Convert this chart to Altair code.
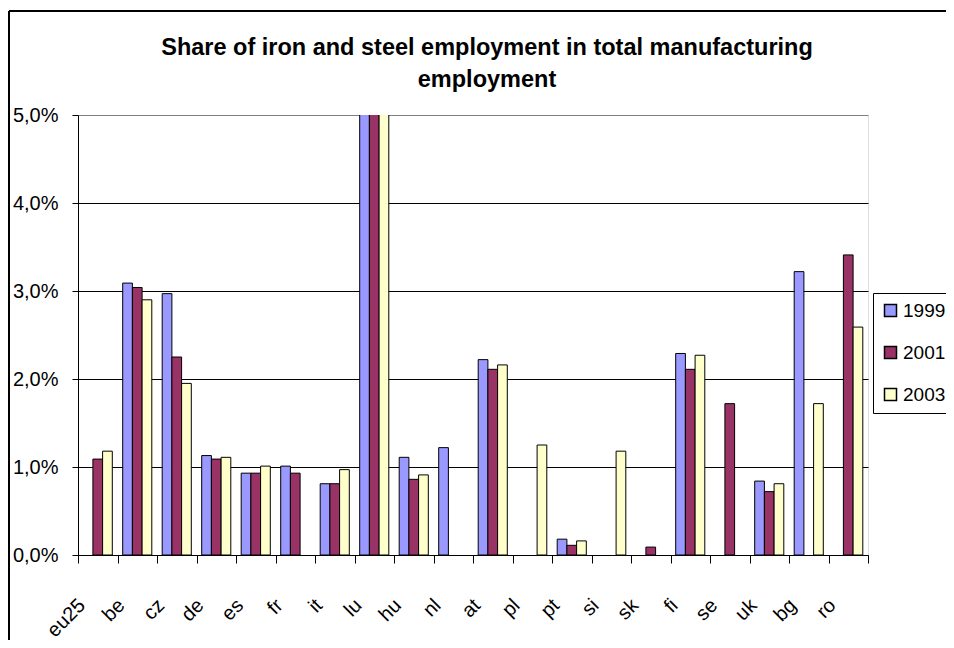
import altair as alt
import pandas as pd

countries = ["eu25", "be", "cz", "de", "es", "fr", "it", "lu", "hu", "nl",
             "at", "pl", "pt", "si", "sk", "fi", "se", "uk", "bg", "ro"]
years = ["1999", "2001", "2003"]
colors = ["#9999FF", "#993366", "#FFFFCC"]

# share in % (lu exceeds the 5% axis and is cut off)
v1999 = [None, 3.09, 2.97, 1.13, 0.93, 1.01, 0.81, 5.6, 1.11, 1.22,
         2.22, None, 0.18, None, None, 2.29, None, 0.84, 3.22, None]
v2001 = [1.09, 3.04, 2.25, 1.09, 0.93, 0.93, 0.81, 5.6, 0.86, None,
         2.11, None, 0.11, None, 0.09, 2.11, 1.72, 0.72, None, 3.41]
v2003 = [1.18, 2.90, 1.95, 1.11, 1.01, None, 0.97, 5.6, 0.91, None,
         2.16, 1.25, 0.16, 1.18, None, 2.27, None, 0.81, 1.72, 2.59]

rows = []
for yr, vals in zip(years, [v1999, v2001, v2003]):
    for c, v in zip(countries, vals):
        if v is not None:
            rows.append({"country": c, "year": yr, "value": v})
df = pd.DataFrame(rows)

FONT = "Liberation Sans"

bars = alt.Chart(df).mark_bar(stroke="black", strokeWidth=1, clip=True).encode(
    x=alt.X("country:N", sort=countries,
            scale=alt.Scale(domain=countries, paddingInner=0, paddingOuter=0),
            axis=alt.Axis(title=None, labelAngle=315, labelAlign="right",
                          labelBaseline="middle", labelFontSize=20, labelFont=FONT,
                          labelColor="black", labelPadding=39, labelOffset=-16,
                          tickBand="extent", tickSize=8, tickColor="black",
                          domainColor="black", grid=False)),
    xOffset=alt.XOffset("year:N", sort=years,
                        scale=alt.Scale(domain=years, paddingInner=0, paddingOuter=0.536)),
    y=alt.Y("value:Q", scale=alt.Scale(domain=[0, 5], nice=False),
            axis=alt.Axis(title=None, values=[0, 1, 2, 3, 4, 5],
                          labelExpr="replace(format(datum.value, '.1f'), '.', ',') + '%'",
                          labelFontSize=20, labelFont=FONT, labelColor="black",
                          labelPadding=14, tickSize=6, tickColor="black",
                          domainColor="black",
                          gridColor={"condition": {"test": "datum.value >= 4.99", "value": "#808080"},
                                     "value": "black"},
                          gridWidth=1)),
    color=alt.Color("year:N", scale=alt.Scale(domain=years, range=colors),
                    legend=alt.Legend(title=None, orient="none", legendX=795, legendY=178,
                                      direction="vertical", symbolType="square",
                                      symbolSize=144, symbolStrokeColor="black",
                                      symbolStrokeWidth=1.5, labelFontSize=19,
                                      labelFont=FONT, labelColor="black",
                                      rowPadding=22, padding=8, strokeColor="black",
                                      fillColor="white", labelOffset=3)),
)

frame_data = alt.Data(values=[{"k": 1}])
left_edge = alt.Chart(frame_data).mark_rule(color="black", strokeWidth=2).encode(
    x=alt.value(-69), y=alt.value(-104), y2=alt.value(620))
top_edge = alt.Chart(frame_data).mark_rule(color="black", strokeWidth=2).encode(
    x=alt.value(-69), x2=alt.value(900), y=alt.value(-104))

chart = alt.layer(bars, left_edge, top_edge).properties(
    width=790, height=440,
    autosize=alt.AutoSizeParams(type="none"),
    padding={"left": 70, "top": 107, "right": 78, "bottom": 85},
    title=alt.TitleParams(
        text=["Share of iron and steel employment in total manufacturing", "employment"],
        font=FONT, fontSize=23.5, fontWeight="bold", color="black",
        anchor="middle", frame="group", dx=14, dy=105, offset=0, lineHeight=32,
        baseline="bottom"),
).configure_view(stroke="#808080", strokeWidth=1).configure(background="white")

chart.save("out.html", embed_options={"renderer": "svg", "actions": False})
